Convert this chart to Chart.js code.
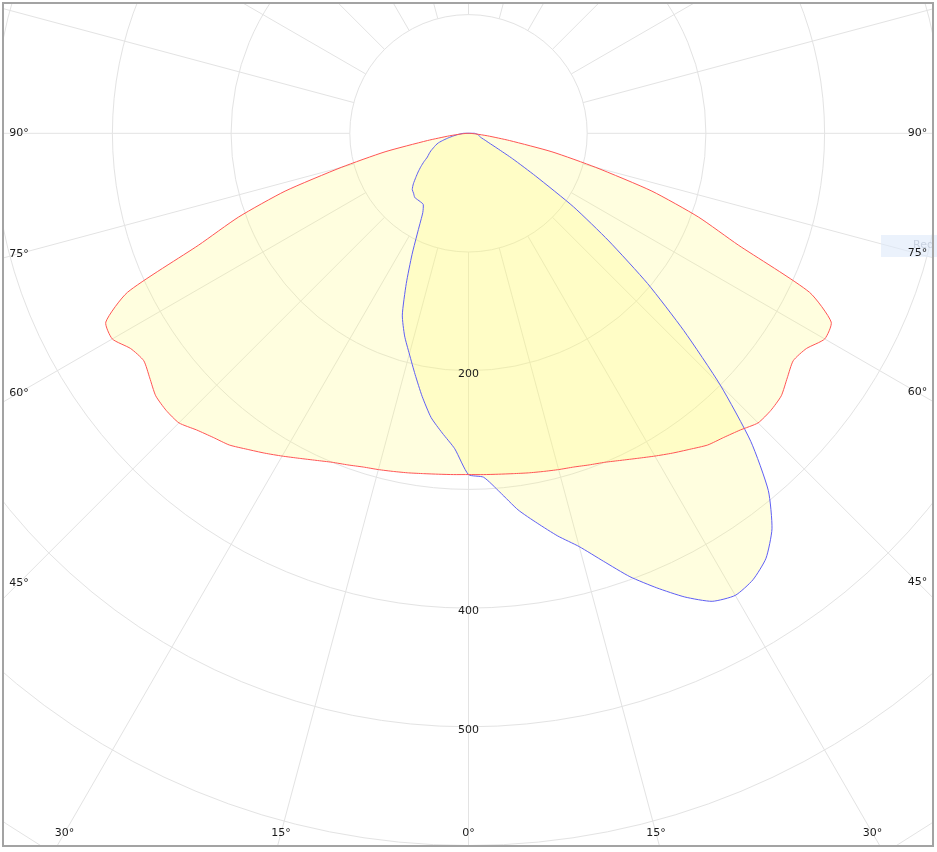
<!DOCTYPE html>
<html>
<head>
<meta charset="utf-8">
<title>Polar intensity diagram</title>
<script src="https://cdn.jsdelivr.net/npm/chart.js@4.4.0/dist/chart.umd.min.js"></script>
<style>
  html, body { margin: 0; padding: 0; background: #fff; }
  #wrap { width: 937px; height: 852px; }
</style>
</head>
<body>
<div id="wrap"><canvas id="polarChart" width="937" height="852"></canvas></div>
<script>
// gamma angles, degrees from straight down
var gammaAngles = [0, 2.5, 5, 7.5, 10, 12.5, 15, 17.5, 20, 22.5, 25, 27.5, 30, 32.5, 35, 37.5, 40, 42.5, 45,
                   47.5, 50, 52.5, 55, 57.5, 60, 62.5, 65, 67.5, 70, 72.5, 75, 77.5, 80, 82.5, 85, 87.5, 90];

// red plane (right half C0, left half C180)
var planeC0 = [287.5, 287.8, 288.3, 289.2, 290.5, 291.8, 293.3, 294.8, 297.3, 300, 304, 308.7, 314, 319.5, 325, 331, 334.5, 339, 345,
               345.5, 344, 338.5, 334, 337.5, 346.5, 344.5, 317, 246, 206, 162, 111, 72, 35, 16, 6, 2, 0];
var planeC180 = [287.5, 287.8, 288.3, 289.2, 290.5, 291.8, 293.3, 294.8, 297.3, 300, 304, 308.7, 314, 319.5, 325, 331, 334.5, 339, 345,
                 345.5, 344, 338.5, 334, 337.5, 346.5, 344.5, 317, 246, 206, 162, 111, 72, 35, 16, 6, 2, 0];

// blue plane (right half C90, left half C270)
var planeC90 = [287.5, 290, 303.5, 320, 333.5, 347.5, 360.5, 378, 397.5, 414.5, 431, 444.5, 449.5, 446, 437, 420, 393, 352, 300,
                246, 197, 149, 108, 67, 43, 27, 19, 15, 12, 10.5, 9.5, 9, 8.5, 8, 7, 6, 5];
var planeC270 = [287.5, 266, 253.5, 241.5, 225, 208, 192.5, 179, 163, 137, 112.5, 91.5, 77, 71, 70.5, 70.5, 70.5, 68.5, 67,
                 63, 58, 53.5, 49, 44.5, 40, 37.5, 35, 32, 29.5, 26.5, 21.5, 17, 13, 10, 7.5, 5.5, 4];

var ringValues = [100, 200, 300, 400, 500, 600, 700];
var ringLabels = [200, 400, 500];
var angleLabels = [0, 15, 30, 45, 60, 75, 90];

// layout of the picture
var W = 937, H = 852;
var CX = 468.5, CY = 133.3, PX_PER_UNIT = 1.187;

function outline(rightVals, leftVals) {
  var pts = [];
  for (var i = gammaAngles.length - 1; i >= 0; i--) {
    var g = gammaAngles[i] * Math.PI / 180;
    pts.push({ x: rightVals[i] * Math.sin(g), y: -rightVals[i] * Math.cos(g) });
  }
  for (var j = 1; j < gammaAngles.length; j++) {
    var h = gammaAngles[j] * Math.PI / 180;
    pts.push({ x: -leftVals[j] * Math.sin(h), y: -leftVals[j] * Math.cos(h) });
  }
  pts.push(pts[0]);
  return pts;
}

var polarGrid = {
  id: 'polarGrid',
  beforeDraw: function (chart) {
    var ctx = chart.ctx, xs = chart.scales.x, ys = chart.scales.y;
    var cx = xs.getPixelForValue(0), cy = ys.getPixelForValue(0);
    ctx.save();
    ctx.fillStyle = '#ffffff';
    ctx.fillRect(0, 0, chart.width, chart.height);
    ctx.beginPath();
    ctx.rect(4, 4, 928, 841);
    ctx.clip();
    ctx.strokeStyle = '#e3e3e3';
    ctx.lineWidth = 1;
    ringValues.forEach(function (v) {
      ctx.beginPath();
      ctx.arc(cx, cy, xs.getPixelForValue(v) - cx, 0, Math.PI * 2);
      ctx.stroke();
    });
    var r0 = xs.getPixelForValue(ringValues[0]) - cx;
    for (var a = 0; a < 360; a += 15) {
      var t = a * Math.PI / 180;
      var dx = Math.sin(t), dy = Math.cos(t);
      ctx.beginPath();
      ctx.moveTo(cx + dx * r0, cy + dy * r0);
      ctx.lineTo(cx + dx * 2000, cy + dy * 2000);
      ctx.stroke();
    }
    ctx.restore();
  },
  afterDraw: function (chart) {
    var ctx = chart.ctx, xs = chart.scales.x, ys = chart.scales.y;
    var cx = xs.getPixelForValue(0), cy = ys.getPixelForValue(0);
    ctx.save();
    // hover box cut off at the right edge
    ctx.fillStyle = 'rgba(222,234,250,0.6)';
    ctx.fillRect(881, 235, 56, 22);
    ctx.fillStyle = 'rgba(160,170,190,0.45)';
    ctx.font = '11px "DejaVu Sans"';
    ctx.textAlign = 'left';
    ctx.textBaseline = 'middle';
    ctx.fillText('Red', 913, 245);

    ctx.fillStyle = '#1a1a1a';
    ctx.textAlign = 'center';
    ringLabels.forEach(function (v) {
      ctx.fillText(String(v), cx, ys.getPixelForValue(-v) + 3);
    });
    var left = 19, right = 917.5, bottom = 833;
    angleLabels.forEach(function (a) {
      var t = a * Math.PI / 180;
      var s = Math.sin(t), c = Math.cos(t);
      [-1, 1].forEach(function (side) {
        if (a === 0 && side === 1) return;
        var k = Infinity;
        if (s > 1e-6) k = Math.min(k, (side < 0 ? cx - left : right - cx) / s);
        if (c > 1e-6) k = Math.min(k, (bottom - cy) / c);
        ctx.fillText(a + '°', cx + side * s * k, cy + c * k);
      });
    });
    ctx.strokeStyle = '#a3a3a3';
    ctx.lineWidth = 2;
    ctx.strokeRect(3, 3, 930, 843);
    ctx.restore();
  }
};

var ctx = document.getElementById('polarChart').getContext('2d');
var polarChart = new Chart(ctx, {
  type: 'scatter',
  data: {
    datasets: [{
      label: 'C0 - C180',
      data: outline(planeC0, planeC180),
      showLine: true,
      borderColor: 'rgb(255,85,85)',
      borderWidth: 1,
      backgroundColor: 'rgba(255,250,110,0.22)',
      fill: 'shape',
      pointRadius: 0,
      tension: 0.2
    }, {
      label: 'C90 - C270',
      data: outline(planeC90, planeC270),
      showLine: true,
      borderColor: 'rgb(95,95,245)',
      borderWidth: 1,
      backgroundColor: 'rgba(255,250,110,0.22)',
      fill: 'shape',
      pointRadius: 0,
      tension: 0.2
    }]
  },
  options: {
    responsive: false,
    animation: false,
    events: [],
    layout: { padding: 0 },
    scales: {
      x: { type: 'linear', display: false, min: -CX / PX_PER_UNIT, max: (W - CX) / PX_PER_UNIT },
      y: { type: 'linear', display: false, min: -(H - CY) / PX_PER_UNIT, max: CY / PX_PER_UNIT }
    },
    plugins: {
      legend: { display: false },
      tooltip: { enabled: false },
      filler: { drawTime: 'beforeDatasetsDraw' }
    }
  },
  plugins: [polarGrid]
});
</script>
</body>
</html>
